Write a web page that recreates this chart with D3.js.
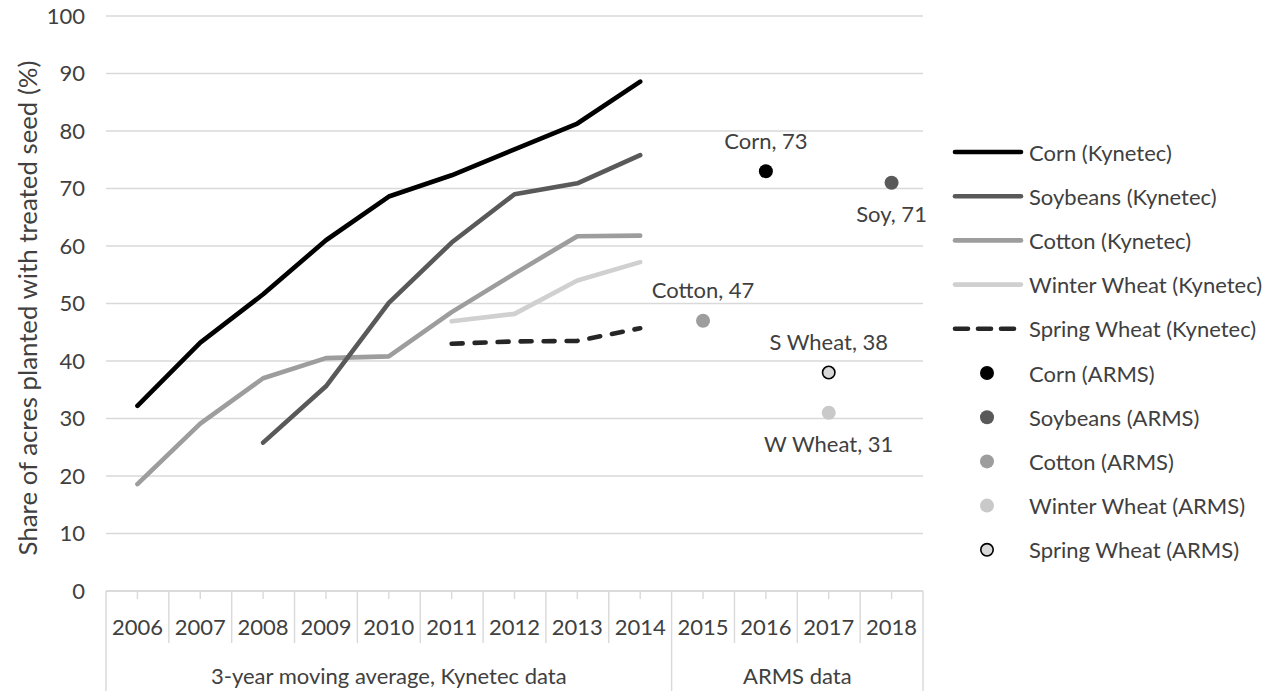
<!DOCTYPE html>
<html>
<head>
<meta charset="utf-8">
<script src="https://cdn.jsdelivr.net/npm/d3@7"></script>
<style>
  html, body { margin: 0; padding: 0; background: #ffffff; }
  svg { display: block; }
  text { font-family: "Lato", "Open Sans", sans-serif; fill: #404040; }
</style>
</head>
<body>
<svg id="chart" width="1263" height="691"></svg>
<script>
// Categories along the x axis
const years = ["2006","2007","2008","2009","2010","2011","2012","2013","2014","2015","2016","2017","2018"];
const yTicks = [0,10,20,30,40,50,60,70,80,90,100];

// Kynetec 3-year moving averages (share of acres, %), null where not reported
const cornKynetec   = [32.2, 43.2, 51.6, 61.0, 68.6, 72.3, 76.8, 81.3, 88.6, null, null, null, null];
const soyKynetec    = [null, null, 25.8, 35.6, 50.1, 60.6, 69.0, 70.9, 75.8, null, null, null, null];
const cottonKynetec = [18.6, 29.1, 37.0, 40.5, 40.8, 48.5, 55.2, 61.7, 61.8, null, null, null, null];
const wWheatKynetec = [null, null, null, null, null, 46.9, 48.2, 54.0, 57.2, null, null, null, null];
const sWheatKynetec = [null, null, null, null, null, 43.0, 43.4, 43.5, 45.7, null, null, null, null];

// ARMS survey points
const armsNames  = ["Corn", "Soybeans", "Cotton", "Winter Wheat", "Spring Wheat"];
const armsYears  = ["2016", "2018", "2015", "2017", "2017"];
const armsValues = [73, 71, 47, 31, 38];
const armsLabels = ["Corn, 73", "Soy, 71", "Cotton, 47", "W Wheat, 31", "S Wheat, 38"];

// Group labels under the year axis
const groupLabels = ["3-year moving average, Kynetec data", "ARMS data"];
const groupSpans  = [["2006","2014"], ["2015","2018"]];

const svg = d3.select("#chart");
const fontSize = 22;

const x = d3.scaleBand().domain(years).range([106, 923]).padding(0);
const y = d3.scaleLinear().domain([0, 100]).range([591, 16]);
const cx = d => x(d) + x.bandwidth() / 2;

// Horizontal gridlines
svg.append("g").selectAll("line").data(yTicks).join("line")
  .attr("x1", x.range()[0]).attr("x2", x.range()[1])
  .attr("y1", d => y(d)).attr("y2", d => y(d))
  .attr("stroke", "#d9d9d9").attr("stroke-width", 1.4);

// Y axis labels
const yAxis = d3.axisLeft(y).tickValues(yTicks).tickSize(0).tickPadding(0);
const gy = svg.append("g").attr("transform", "translate(85,0)").call(yAxis);
gy.select(".domain").remove();
gy.selectAll("text").attr("font-size", fontSize).attr("font-family", "Lato").attr("fill", "#404040");

// Y axis title
svg.append("text")
  .attr("transform", "translate(27,308) rotate(-90)")
  .attr("text-anchor", "middle").attr("dominant-baseline", "central")
  .attr("font-size", 25.8)
  .text("Share of acres planted with treated seed (%)");

// Category axis: separators between years, small centre ticks, year labels
const bottom = y(0);
const bounds = years.map(d => x(d)).concat([x.range()[1]]);
const groupEdges = [x(groupSpans[0][0]), x(groupSpans[1][0]), x.range()[1]];
const gx = svg.append("g");
gx.selectAll("line.sep").data(bounds).join("line").attr("class", "sep")
  .attr("x1", d => d).attr("x2", d => d)
  .attr("y1", bottom).attr("y2", d => groupEdges.some(g => Math.abs(g - d) < 0.5) ? 691 : 643)
  .attr("stroke", "#d9d9d9").attr("stroke-width", 1.4);
gx.selectAll("line.tk").data(years).join("line").attr("class", "tk")
  .attr("x1", d => cx(d)).attr("x2", d => cx(d))
  .attr("y1", bottom).attr("y2", bottom + 8)
  .attr("stroke", "#d9d9d9").attr("stroke-width", 1.4);
gx.selectAll("text.yr").data(years).join("text").attr("class", "yr")
  .attr("x", d => cx(d)).attr("y", 626)
  .attr("text-anchor", "middle").attr("dominant-baseline", "central")
  .attr("font-size", fontSize).text(d => d);
gx.selectAll("text.grp").data(groupLabels).join("text").attr("class", "grp")
  .attr("x", (d, i) => (x(groupSpans[i][0]) + x(groupSpans[i][1]) + x.bandwidth()) / 2)
  .attr("y", 675)
  .attr("text-anchor", "middle").attr("dominant-baseline", "central")
  .attr("font-size", fontSize).text(d => d);
// x axis baseline
svg.append("line").attr("x1", x.range()[0]).attr("x2", x.range()[1])
  .attr("y1", bottom).attr("y2", bottom).attr("stroke", "#d9d9d9").attr("stroke-width", 1.4);

// Kynetec series lines
const lineSeries = [
  { name: "Corn (Kynetec)",         values: cornKynetec,   color: "#000000", dash: null },
  { name: "Soybeans (Kynetec)",     values: soyKynetec,    color: "#595959", dash: null },
  { name: "Cotton (Kynetec)",       values: cottonKynetec, color: "#9d9d9d", dash: null },
  { name: "Winter Wheat (Kynetec)", values: wWheatKynetec, color: "#d0d0d0", dash: null },
  { name: "Spring Wheat (Kynetec)", values: sWheatKynetec, color: "#262626", dash: "11,12" }
];
const line = d3.line()
  .defined(d => d.v !== null)
  .x(d => cx(d.year)).y(d => y(d.v));
const drawOrder = [3, 2, 1, 0, 4];
drawOrder.forEach(i => {
  const s = lineSeries[i];
  svg.append("path")
    .datum(years.map((yr, j) => ({ year: yr, v: s.values[j] })))
    .attr("d", line)
    .attr("fill", "none").attr("stroke", s.color).attr("stroke-width", 4.6)
    .attr("stroke-linejoin", "round").attr("stroke-linecap", "round")
    .attr("stroke-dasharray", s.dash);
});

// ARMS markers
const armsStyle = [
  { fill: "#000000", stroke: "none", place: "above" },
  { fill: "#595959", stroke: "none", place: "below" },
  { fill: "#9d9d9d", stroke: "none", place: "above" },
  { fill: "#c9c9c9", stroke: "none", place: "below" },
  { fill: "#d9d9d9", stroke: "#000000", place: "above" }
];
armsNames.forEach((n, i) => {
  const st = armsStyle[i];
  const px = cx(armsYears[i]), py = y(armsValues[i]);
  svg.append("circle").attr("cx", px).attr("cy", py)
    .attr("r", st.stroke === "none" ? 7 : 6.2)
    .attr("fill", st.fill).attr("stroke", st.stroke).attr("stroke-width", 1.6);
  svg.append("text").attr("x", px).attr("y", st.place === "above" ? py - 31 : py + 31)
    .attr("text-anchor", "middle").attr("dominant-baseline", "central")
    .attr("font-size", fontSize).text(armsLabels[i]);
});

// Legend
const legendTop = 152, legendStep = 44.2;
const lg = svg.append("g");
lineSeries.forEach((s, i) => {
  const ly = legendTop + i * legendStep;
  lg.append("line").attr("x1", 955).attr("x2", 1021).attr("y1", ly).attr("y2", ly)
    .attr("stroke", s.color).attr("stroke-width", 4.6).attr("stroke-linecap", "round")
    .attr("stroke-dasharray", s.dash ? "13,10" : null);
  lg.append("text").attr("x", 1029).attr("y", ly).attr("dominant-baseline", "central")
    .attr("font-size", fontSize).text(s.name);
});
armsNames.forEach((n, i) => {
  const st = armsStyle[i];
  const ly = legendTop + (i + 5) * legendStep;
  lg.append("circle").attr("cx", 987).attr("cy", ly)
    .attr("r", st.stroke === "none" ? 7 : 6.2)
    .attr("fill", st.fill).attr("stroke", st.stroke).attr("stroke-width", 1.6);
  lg.append("text").attr("x", 1029).attr("y", ly).attr("dominant-baseline", "central")
    .attr("font-size", fontSize).text(n + " (ARMS)");
});
</script>
</body>
</html>
